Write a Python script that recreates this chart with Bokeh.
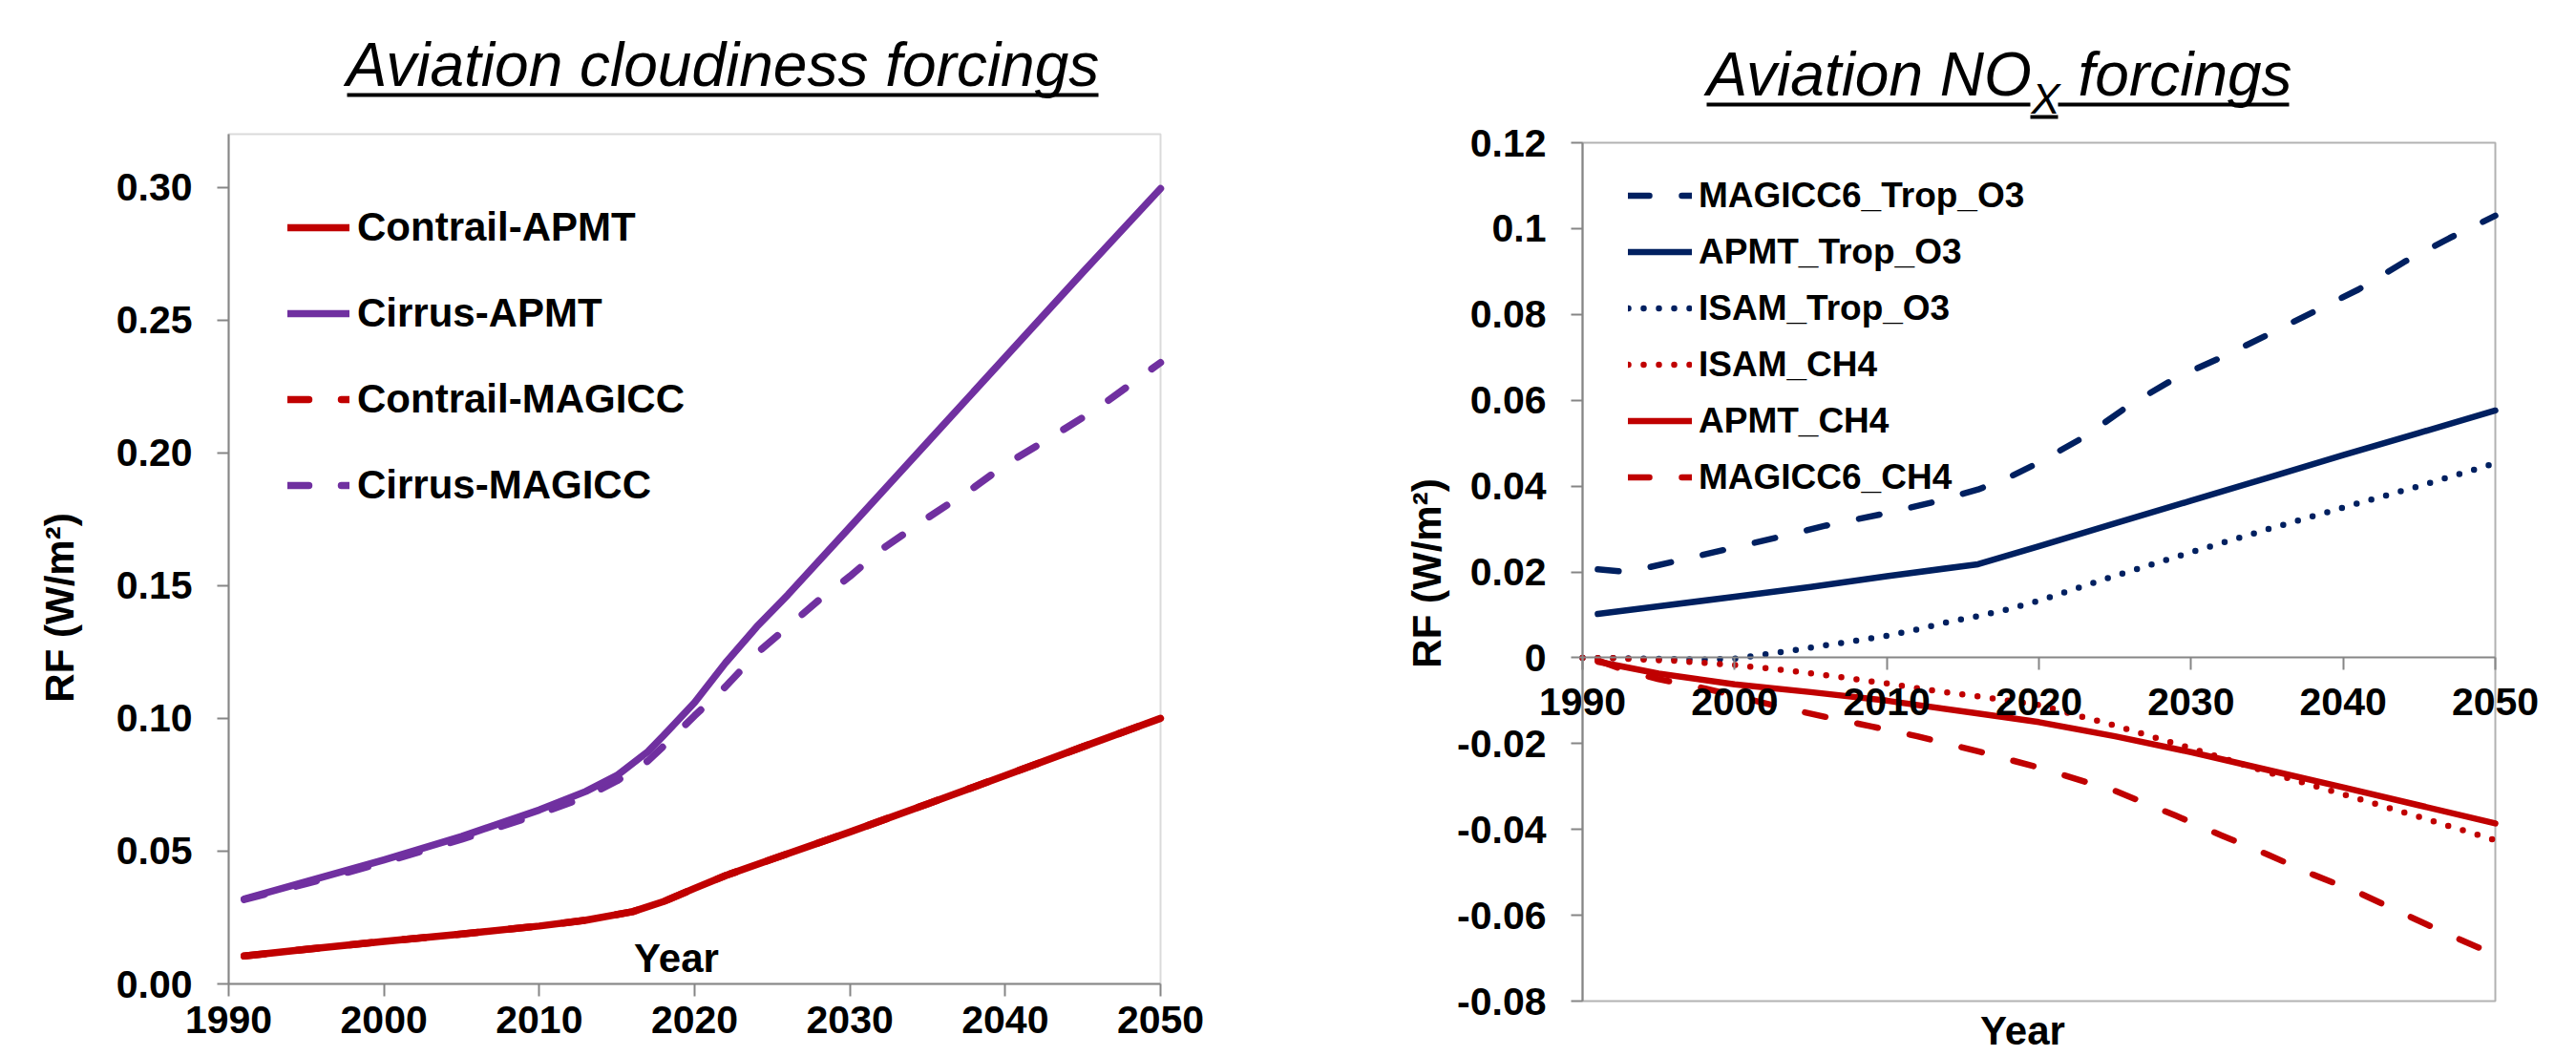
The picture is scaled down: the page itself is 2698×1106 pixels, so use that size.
import math
from bokeh.plotting import figure
from bokeh.models import Range1d, FixedTicker, Legend, LegendItem, Label, BoxAnnotation
from bokeh.layouts import row
from bokeh.embed import file_html
from bokeh.resources import INLINE

FONT = "Liberation Sans"
RED = "#C00000"
PURPLE = "#7030A0"
NAVY = "#002060"
GRAY = "#868686"

# ---------------- data: left panel (Aviation cloudiness forcings) ----------------
year_ticks = [1990, 2000, 2010, 2020, 2030, 2040, 2050]
left_y_ticks = [0.0, 0.05, 0.10, 0.15, 0.20, 0.25, 0.30]
left_y_labels = ["0.00", "0.05", "0.10", "0.15", "0.20", "0.25", "0.30"]

contrail_apmt_years = [1991, 1995, 2000, 2005, 2010, 2013, 2016, 2018, 2020, 2022, 2025, 2030, 2035, 2040, 2045, 2050]
contrail_apmt = [0.0105, 0.0130, 0.0160, 0.0188, 0.0218, 0.0240, 0.0272, 0.0310, 0.0360, 0.0408, 0.0470, 0.0572, 0.0678, 0.0785, 0.0893, 0.1000]

contrail_magicc_years = [1991, 1995, 2000, 2005, 2010, 2013, 2016, 2018, 2020, 2022, 2025, 2030, 2035, 2040, 2045, 2050]
contrail_magicc = [0.0105, 0.0130, 0.0160, 0.0188, 0.0218, 0.0240, 0.0272, 0.0310, 0.0360, 0.0408, 0.0470, 0.0572, 0.0678, 0.0785, 0.0893, 0.1000]

cirrus_apmt_years = [1991, 1995, 2000, 2005, 2010, 2013, 2015, 2017, 2018, 2020, 2022, 2024, 2026, 2030, 2035, 2040, 2045, 2050]
cirrus_apmt = [0.0320, 0.0385, 0.0467, 0.0555, 0.0655, 0.0725, 0.0785, 0.0875, 0.0935, 0.1060, 0.1210, 0.1345, 0.1465, 0.1720, 0.2040, 0.2360, 0.2680, 0.2995]

cirrus_magicc_years = [1991, 1995, 2000, 2005, 2010, 2013, 2015, 2017, 2018, 2020, 2022, 2024, 2026, 2028, 2030, 2032, 2035, 2038, 2040, 2043, 2046, 2050]
cirrus_magicc = [0.0318, 0.0378, 0.0458, 0.0545, 0.0640, 0.0705, 0.0765, 0.0840, 0.0895, 0.1010, 0.1120, 0.1245, 0.1345, 0.1445, 0.1535, 0.1635, 0.1755, 0.1870, 0.1955, 0.2060, 0.2170, 0.2340]

# ---------------- data: right panel (Aviation NOx forcings) ----------------
right_y_ticks = [-0.08, -0.06, -0.04, -0.02, 0.0, 0.02, 0.04, 0.06, 0.08, 0.1, 0.12]
right_y_labels = ["-0.08", "-0.06", "-0.04", "-0.02", "0", "0.02", "0.04", "0.06", "0.08", "0.1", "0.12"]

magicc_trop_o3_years = [1991, 1993, 1996, 2000, 2003, 2006, 2010, 2013, 2016, 2018, 2020, 2023, 2026, 2029, 2032, 2035, 2038, 2041, 2044, 2047, 2050]
magicc_trop_o3 = [0.0206, 0.0200, 0.0224, 0.0257, 0.0282, 0.0308, 0.0337, 0.0362, 0.0392, 0.0420, 0.0455, 0.0515, 0.0590, 0.0652, 0.0700, 0.0752, 0.0805, 0.0858, 0.0922, 0.0978, 0.1030]

apmt_trop_o3_years = [1991, 1995, 2000, 2005, 2010, 2016, 2020, 2025, 2030, 2035, 2040, 2045, 2050]
apmt_trop_o3 = [0.0102, 0.0120, 0.0142, 0.0165, 0.0190, 0.0218, 0.0260, 0.0313, 0.0366, 0.0419, 0.0472, 0.0524, 0.0576]

isam_trop_o3_years = [1990, 1994, 1998, 2000, 2002, 2004, 2006, 2008, 2010, 2012, 2014, 2016, 2018, 2020, 2025, 2030, 2035, 2040, 2045, 2050]
isam_trop_o3 = [0.0000, -0.0002, -0.0004, -0.0002, 0.0008, 0.0018, 0.0029, 0.0040, 0.0051, 0.0066, 0.0083, 0.0097, 0.0113, 0.0133, 0.0191, 0.0246, 0.0299, 0.0350, 0.0400, 0.0453]

isam_ch4_years = [1990, 1992, 1994, 1996, 1998, 2000, 2002, 2004, 2006, 2008, 2010, 2012, 2014, 2016, 2020, 2025, 2030, 2035, 2040, 2045, 2050]
isam_ch4 = [0.0000, -0.0001, -0.0004, -0.0007, -0.0012, -0.0017, -0.0024, -0.0032, -0.0041, -0.0050, -0.0060, -0.0071, -0.0081, -0.0090, -0.0110, -0.0158, -0.0211, -0.0266, -0.0318, -0.0371, -0.0425]

apmt_ch4_years = [1991, 1995, 2000, 2005, 2010, 2016, 2020, 2025, 2030, 2035, 2040, 2045, 2050]
apmt_ch4 = [-0.0009, -0.0037, -0.0062, -0.0080, -0.0100, -0.0130, -0.0150, -0.0183, -0.0220, -0.0261, -0.0302, -0.0344, -0.0386]

magicc_ch4_years = [1991, 1993, 1995, 1998, 2000, 2003, 2006, 2009, 2012, 2016, 2020, 2025, 2029, 2032, 2035, 2038, 2041, 2044, 2047, 2050]
magicc_ch4 = [-0.0006, -0.0032, -0.0050, -0.0071, -0.0088, -0.0115, -0.0138, -0.0160, -0.0183, -0.0218, -0.0256, -0.0310, -0.0368, -0.0414, -0.0458, -0.0505, -0.0547, -0.0597, -0.0646, -0.0692]

# ---------------- layout geometry (page pixels; Bokeh's page has no body margin) ----------------
H = 1106
WL = 1400
WR = 1298
L_CANVAS = (0, WL, 0, H)                 # left, right, top, bottom
R_CANVAS = (WL, WL + WR, 0, H)
L_BOX = (239, 1215, 140, 1030)          # plot box: left, right, top, bottom
R_BOX = (1657, 2613, 149, 1048)
L_XR, L_YR = (1990, 2050), (0.0, 0.32)
R_XR, R_YR = (1990, 2050), (-0.08, 0.12)


def conv(box, xr, yr):
    bl, br, bt, bb = box

    def fx(px):
        return xr[0] + (px - bl) / (br - bl) * (xr[1] - xr[0])

    def fy(py):
        return yr[0] + (bb - py) / (bb - bt) * (yr[1] - yr[0])
    return fx, fy


def make_figure(canvas, box, xr, yr, box_color, yticks, ylabels, x_standoff):
    fx, fy = conv(box, xr, yr)
    cl, cr, ct, cb = canvas
    p = figure(width=cr - cl, height=cb - ct,
               x_range=Range1d(fx(cl), fx(cr)), y_range=Range1d(fy(cb), fy(ct)),
               output_backend="svg", toolbar_location=None, title=None,
               min_border=0, min_border_left=0, min_border_right=0,
               min_border_top=0, min_border_bottom=0)
    p.grid.visible = False
    p.outline_line_color = None
    p.background_fill_color = "white"
    p.border_fill_color = "white"
    p.add_layout(BoxAnnotation(left=xr[0], right=xr[1], bottom=yr[0], top=yr[1],
                               fill_alpha=0.0, line_color=box_color, line_width=2,
                               level="underlay"))
    for ax in p.axis:
        ax.axis_line_color = GRAY
        ax.axis_line_width = 2
        ax.major_tick_line_color = GRAY
        ax.major_tick_line_width = 2
        ax.major_tick_in = 0
        ax.minor_tick_line_color = None
        ax.major_label_text_font = FONT
        ax.major_label_text_font_size = "41px"
        ax.major_label_text_font_style = "bold"
        ax.major_label_text_color = "black"
    p.xaxis.ticker = FixedTicker(ticks=year_ticks)
    p.xaxis.fixed_location = 0.0
    p.xaxis.bounds = xr
    p.xaxis.major_tick_out = 13
    p.xaxis.major_label_standoff = x_standoff
    p.yaxis.ticker = FixedTicker(ticks=yticks)
    p.yaxis.major_label_overrides = {t: s for t, s in zip(yticks, ylabels)}
    p.yaxis.fixed_location = xr[0]
    p.yaxis.bounds = yr
    p.yaxis.major_tick_out = 12
    p.yaxis.major_label_standoff = 26
    return p, fx, fy


def underline(p, fx, fy, x0, x1, y0, y1):
    p.add_layout(BoxAnnotation(left=fx(x0), right=fx(x1), top=fy(y0), bottom=fy(y1),
                               fill_color="black", fill_alpha=1.0, line_color=None))


def label(p, x, y, text, size, style="bold", align="center", baseline="top", angle=0.0):
    p.add_layout(Label(x=x, y=y, text=text, text_font=FONT, text_font_size=size,
                       text_font_style=style, text_align=align, text_baseline=baseline,
                       text_color="black", angle=angle))


def legend(items, loc, gw, gh, spacing, standoff, size):
    return Legend(items=items, location=loc, glyph_width=gw, glyph_height=gh, label_height=gh,
                  spacing=spacing, padding=0, margin=0, label_standoff=standoff,
                  label_text_font=FONT, label_text_font_size=size, label_text_font_style="bold",
                  label_text_color="black", border_line_color=None, background_fill_alpha=0.0)


# ---------------- left figure ----------------
pl, lx, ly = make_figure(L_CANVAS, L_BOX, L_XR, L_YR, GRAY, left_y_ticks, left_y_labels, 10)

lw = 7.5
dash = "22 34"
r_cm = pl.line(contrail_magicc_years, contrail_magicc, line_color=RED, line_width=lw, line_dash=dash, line_cap="round", line_join="round")
r_ca = pl.line(contrail_apmt_years, contrail_apmt, line_color=RED, line_width=lw, line_cap="round", line_join="round")
r_im = pl.line(cirrus_magicc_years, cirrus_magicc, line_color=PURPLE, line_width=lw, line_dash=dash, line_cap="round", line_join="round")
r_ia = pl.line(cirrus_apmt_years, cirrus_apmt, line_color=PURPLE, line_width=lw, line_cap="round", line_join="round")

# legend: glyph box starts at page x 301, rows centred at 238, 328, 418, 508
pl.add_layout(legend([LegendItem(label="Contrail-APMT", renderers=[r_ca]),
                      LegendItem(label="Cirrus-APMT", renderers=[r_ia]),
                      LegendItem(label="Contrail-MAGICC", renderers=[r_cm]),
                      LegendItem(label="Cirrus-MAGICC", renderers=[r_im])],
                     (301 - L_CANVAS[0], L_CANVAS[3] - 533), 65, 50, 40, 8, "42px"))

label(pl, lx(756.5), ly(31), "Aviation cloudiness forcings", "64px", style="italic")
underline(pl, lx, ly, 363, 1150, 97, 101)
label(pl, lx(62), ly(636), "RF (W/m²)", "42px", baseline="middle", angle=math.pi / 2)
label(pl, lx(708), ly(979), "Year", "42px")

# ---------------- right figure ----------------
pr, rx, ry = make_figure(R_CANVAS, R_BOX, R_XR, R_YR, "black", right_y_ticks, right_y_labels, 19)

rw = 6.5
r1 = pr.line(magicc_trop_o3_years, magicc_trop_o3, line_color=NAVY, line_width=rw, line_dash=dash, line_cap="round", line_join="round")
r2 = pr.line(apmt_trop_o3_years, apmt_trop_o3, line_color=NAVY, line_width=rw, line_cap="round", line_join="round")
r3 = pr.line(isam_trop_o3_years, isam_trop_o3, line_color=NAVY, line_width=rw, line_dash="0 16", line_cap="round", line_join="round")
r4 = pr.line(isam_ch4_years, isam_ch4, line_color=RED, line_width=rw, line_dash="0 16", line_cap="round", line_join="round")
r5 = pr.line(apmt_ch4_years, apmt_ch4, line_color=RED, line_width=rw, line_cap="round", line_join="round")
r6 = pr.line(magicc_ch4_years, magicc_ch4, line_color=RED, line_width=rw, line_dash=dash, line_cap="round", line_join="round")

# legend: glyph box starts at page x 1705, rows centred at 204.5 + 59*k
pr.add_layout(legend([LegendItem(label="MAGICC6_Trop_O3", renderers=[r1]),
                      LegendItem(label="APMT_Trop_O3", renderers=[r2]),
                      LegendItem(label="ISAM_Trop_O3", renderers=[r3]),
                      LegendItem(label="ISAM_CH4", renderers=[r4]),
                      LegendItem(label="APMT_CH4", renderers=[r5]),
                      LegendItem(label="MAGICC6_CH4", renderers=[r6])],
                     (1705 - R_CANVAS[0], R_CANVAS[3] - 522), 67, 45, 14, 7, "37px"))

label(pr, rx(1787), ry(41), "Aviation NO", "64px", style="italic", align="left")
label(pr, rx(2127), ry(77), "X", "45px", style="italic", align="left")
label(pr, rx(2176), ry(41), "forcings", "64px", style="italic", align="left")
underline(pr, rx, ry, 1787, 2126, 107, 111)
underline(pr, rx, ry, 2126, 2155, 120, 124)
underline(pr, rx, ry, 2155, 2397, 107, 111)
label(pr, rx(1494), ry(600), "RF (W/m²)", "42px", baseline="middle", angle=math.pi / 2)
label(pr, rx(2118), ry(1055), "Year", "42px")

layout = row(pl, pr, spacing=0)
open("out.html", "w").write(file_html(layout, INLINE))
